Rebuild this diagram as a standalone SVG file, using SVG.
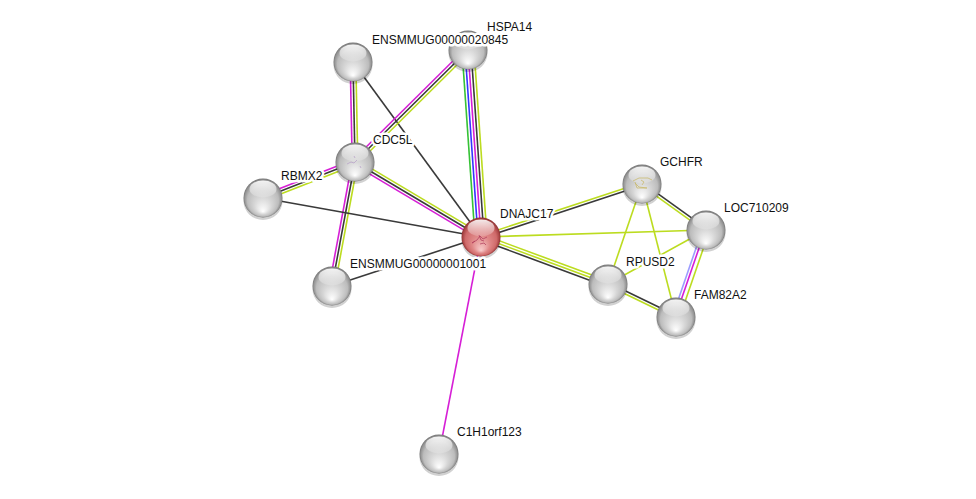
<svg xmlns="http://www.w3.org/2000/svg" width="976" height="499" viewBox="0 0 976 499">
<style>
.e line{stroke-width:1.6;fill:none}
.mg{stroke:#d61fd6}
.bk{stroke:#3a3a3a}
.yl{stroke:#bcdc20}
.gn{stroke:#36c236}
.bl{stroke:#3434ff}
.hb{stroke:#9c9cff}
.lbl{font-family:"Liberation Sans",Arial,sans-serif;font-size:12px;fill:#111;stroke:#fff;stroke-width:5px;paint-order:stroke;stroke-linejoin:round}
</style>
<defs>
<radialGradient id="gGrey" cx="50%" cy="50%" r="50%" fx="50%" fy="85%">
<stop offset="0" stop-color="#ffffff"/>
<stop offset="0.45" stop-color="#d6d6d6"/>
<stop offset="0.8" stop-color="#bcbcbc"/>
<stop offset="0.94" stop-color="#949494"/>
<stop offset="1" stop-color="#747474"/>
</radialGradient>
<radialGradient id="gRed" cx="50%" cy="50%" r="50%" fx="50%" fy="85%">
<stop offset="0" stop-color="#f8cccc"/>
<stop offset="0.45" stop-color="#e08888"/>
<stop offset="0.8" stop-color="#cf6a6a"/>
<stop offset="0.94" stop-color="#a84444"/>
<stop offset="1" stop-color="#8a3030"/>
</radialGradient>
<linearGradient id="gHi" x1="0" y1="0" x2="0" y2="1">
<stop offset="0" stop-color="#ffffff" stop-opacity="0.9"/>
<stop offset="1" stop-color="#ffffff" stop-opacity="0.15"/>
</linearGradient>
<g id="ball">
<ellipse cx="0" cy="3" rx="19.5" ry="19" fill="#000" opacity="0.18"/>
<circle cx="0" cy="0" r="19.5" fill="url(#gGrey)"/>
<ellipse cx="0" cy="-9" rx="13.5" ry="8.5" fill="url(#gHi)"/>
</g>
<g id="ballRed">
<ellipse cx="0" cy="3" rx="19.5" ry="19" fill="#000" opacity="0.18"/>
<circle cx="0" cy="0" r="19.5" fill="url(#gRed)"/>
<ellipse cx="0" cy="-9" rx="13.5" ry="8.5" fill="url(#gHi)"/>
</g>
</defs>
<rect width="976" height="499" fill="#fff"/>
<g id="connectors" class="e">
<!-- ENS20845 - CDC5L -->
<line class="mg" x1="350.2" y1="62.06" x2="352.2" y2="162.06"/>
<line class="bk" x1="353" y1="62" x2="355" y2="162"/>
<line class="yl" x1="355.8" y1="61.94" x2="357.8" y2="161.94"/>
<!-- ENS20845 - DNAJC17 -->
<line class="bk" x1="353" y1="62" x2="481" y2="237"/>
<!-- HSPA14 - CDC5L -->
<line class="mg" x1="466.03" y1="48.01" x2="353.03" y2="160.01"/>
<line class="bk" x1="468" y1="50" x2="355" y2="162"/>
<line class="yl" x1="469.97" y1="51.99" x2="356.97" y2="163.99"/>
<!-- HSPA14 - DNAJC17 -->
<line class="gn" x1="462.01" y1="50.42" x2="475.01" y2="237.42"/>
<line class="bl" x1="465.01" y1="50.21" x2="478.01" y2="237.21"/>
<line class="mg" x1="468" y1="50" x2="481" y2="237"/>
<line class="bk" x1="470.99" y1="49.79" x2="483.99" y2="236.79"/>
<line class="yl" x1="473.99" y1="49.58" x2="486.99" y2="236.58"/>
<!-- CDC5L - RBMX2 -->
<line class="mg" x1="353.98" y1="159.39" x2="261.98" y2="195.39"/>
<line class="bk" x1="355" y1="162" x2="263" y2="198"/>
<line class="yl" x1="356.02" y1="164.61" x2="264.02" y2="200.61"/>
<!-- CDC5L - DNAJC17 -->
<line class="mg" x1="353.57" y1="164.41" x2="479.57" y2="239.41"/>
<line class="bk" x1="355" y1="162" x2="481" y2="237"/>
<line class="yl" x1="356.43" y1="159.59" x2="482.43" y2="234.59"/>
<!-- CDC5L - ENS1001 -->
<line class="mg" x1="352.25" y1="161.49" x2="329.25" y2="285.49"/>
<line class="bk" x1="355" y1="162" x2="332" y2="286"/>
<line class="yl" x1="357.75" y1="162.51" x2="334.75" y2="286.51"/>
<!-- RBMX2 - DNAJC17 -->
<line class="bk" x1="263" y1="198" x2="481" y2="237"/>
<!-- ENS1001 - DNAJC17 -->
<line class="bk" x1="332" y1="286" x2="481" y2="237"/>
<!-- DNAJC17 - C1H1orf123 -->
<line class="mg" x1="481" y1="237" x2="439" y2="454"/>
<!-- DNAJC17 - GCHFR -->
<line class="bk" x1="481.44" y1="238.33" x2="642.44" y2="185.33"/>
<line class="yl" x1="480.56" y1="235.67" x2="641.56" y2="182.67"/>
<!-- DNAJC17 - LOC710209 -->
<line class="yl" x1="481" y1="237" x2="706" y2="230"/>
<!-- DNAJC17 - RPUSD2 -->
<line class="yl" x1="481.97" y1="234.37" x2="608.97" y2="281.37"/>
<line class="yl" x1="481" y1="237" x2="608" y2="284"/>
<line class="bk" x1="480.03" y1="239.63" x2="607.03" y2="286.63"/>
<!-- LOC710209 - GCHFR -->
<line class="bk" x1="706.82" y1="228.86" x2="642.82" y2="182.86"/>
<line class="yl" x1="705.18" y1="231.14" x2="641.18" y2="185.14"/>
<!-- GCHFR - RPUSD2 -->
<line class="yl" x1="642" y1="184" x2="608" y2="284"/>
<!-- GCHFR - FAM82A2 -->
<line class="yl" x1="642" y1="184" x2="676" y2="317"/>
<!-- LOC710209 - RPUSD2 -->
<line class="yl" x1="706" y1="230" x2="608" y2="284"/>
<!-- LOC710209 - FAM82A2 -->
<line class="hb" x1="702.69" y1="228.86" x2="672.69" y2="315.86"/>
<line class="mg" x1="705.34" y1="229.77" x2="675.34" y2="316.77"/>
<line class="yl" x1="709.31" y1="231.14" x2="679.31" y2="318.14"/>
<!-- RPUSD2 - FAM82A2 -->
<line class="bk" x1="608.61" y1="282.74" x2="676.61" y2="315.74"/>
<line class="yl" x1="607.39" y1="285.26" x2="675.39" y2="318.26"/>
</g>
<g id="node-HSPA14"><use href="#ball" x="468" y="50"/><text class="lbl" x="487" y="31">HSPA14</text></g>
<g id="node-ENSMMUG00000020845"><use href="#ball" x="353" y="62"/><text class="lbl" x="372" y="44">ENSMMUG00000020845</text></g>
<g id="node-CDC5L"><use href="#ball" x="355" y="162"/>
<path d="M347 164 l4 -2 l3 1 l3 -3 m-3 -4 l1 2 m5 8 l1 2" stroke="#b9a3c9" stroke-width="0.8" fill="none"/>
<text class="lbl" x="373" y="144">CDC5L</text></g>
<g id="node-RBMX2"><use href="#ball" x="263" y="198"/><text class="lbl" x="281" y="180">RBMX2</text></g>
<g id="node-DNAJC17"><use href="#ballRed" x="481" y="237"/>
<path d="M472 243 l5 -3 l3 -4 l3 3 l4 -2 m-8 -2 l2 5 l3 1 m-4 3 l4 -1 l2 2 m-11 -4 l-3 2" stroke="#b03a5a" stroke-width="0.9" fill="none" opacity="0.8"/>
<text class="lbl" x="500" y="218">DNAJC17</text></g>
<g id="node-ENSMMUG00000001001"><use href="#ball" x="332" y="286"/><text class="lbl" x="350" y="268">ENSMMUG00000001001</text></g>
<g id="node-GCHFR"><use href="#ball" x="642" y="184"/>
<path d="M633 181 l6 -3 l9 0 l4 2 m-17 3 l4 4 l8 1 m-12 -6 l2 6 l10 0 m-6 -8 l3 2 l-2 3" stroke="#c8b86a" stroke-width="0.9" fill="none" opacity="0.85"/>
<text class="lbl" x="660" y="166">GCHFR</text></g>
<g id="node-LOC710209"><use href="#ball" x="706" y="230"/><text class="lbl" x="724" y="212">LOC710209</text></g>
<g id="node-RPUSD2"><use href="#ball" x="608" y="284"/><text class="lbl" x="626" y="266">RPUSD2</text></g>
<g id="node-FAM82A2"><use href="#ball" x="676" y="317"/><text class="lbl" x="694" y="299">FAM82A2</text></g>
<g id="node-C1H1orf123"><use href="#ball" x="439" y="454"/><text class="lbl" x="457" y="436">C1H1orf123</text></g>
</svg>
